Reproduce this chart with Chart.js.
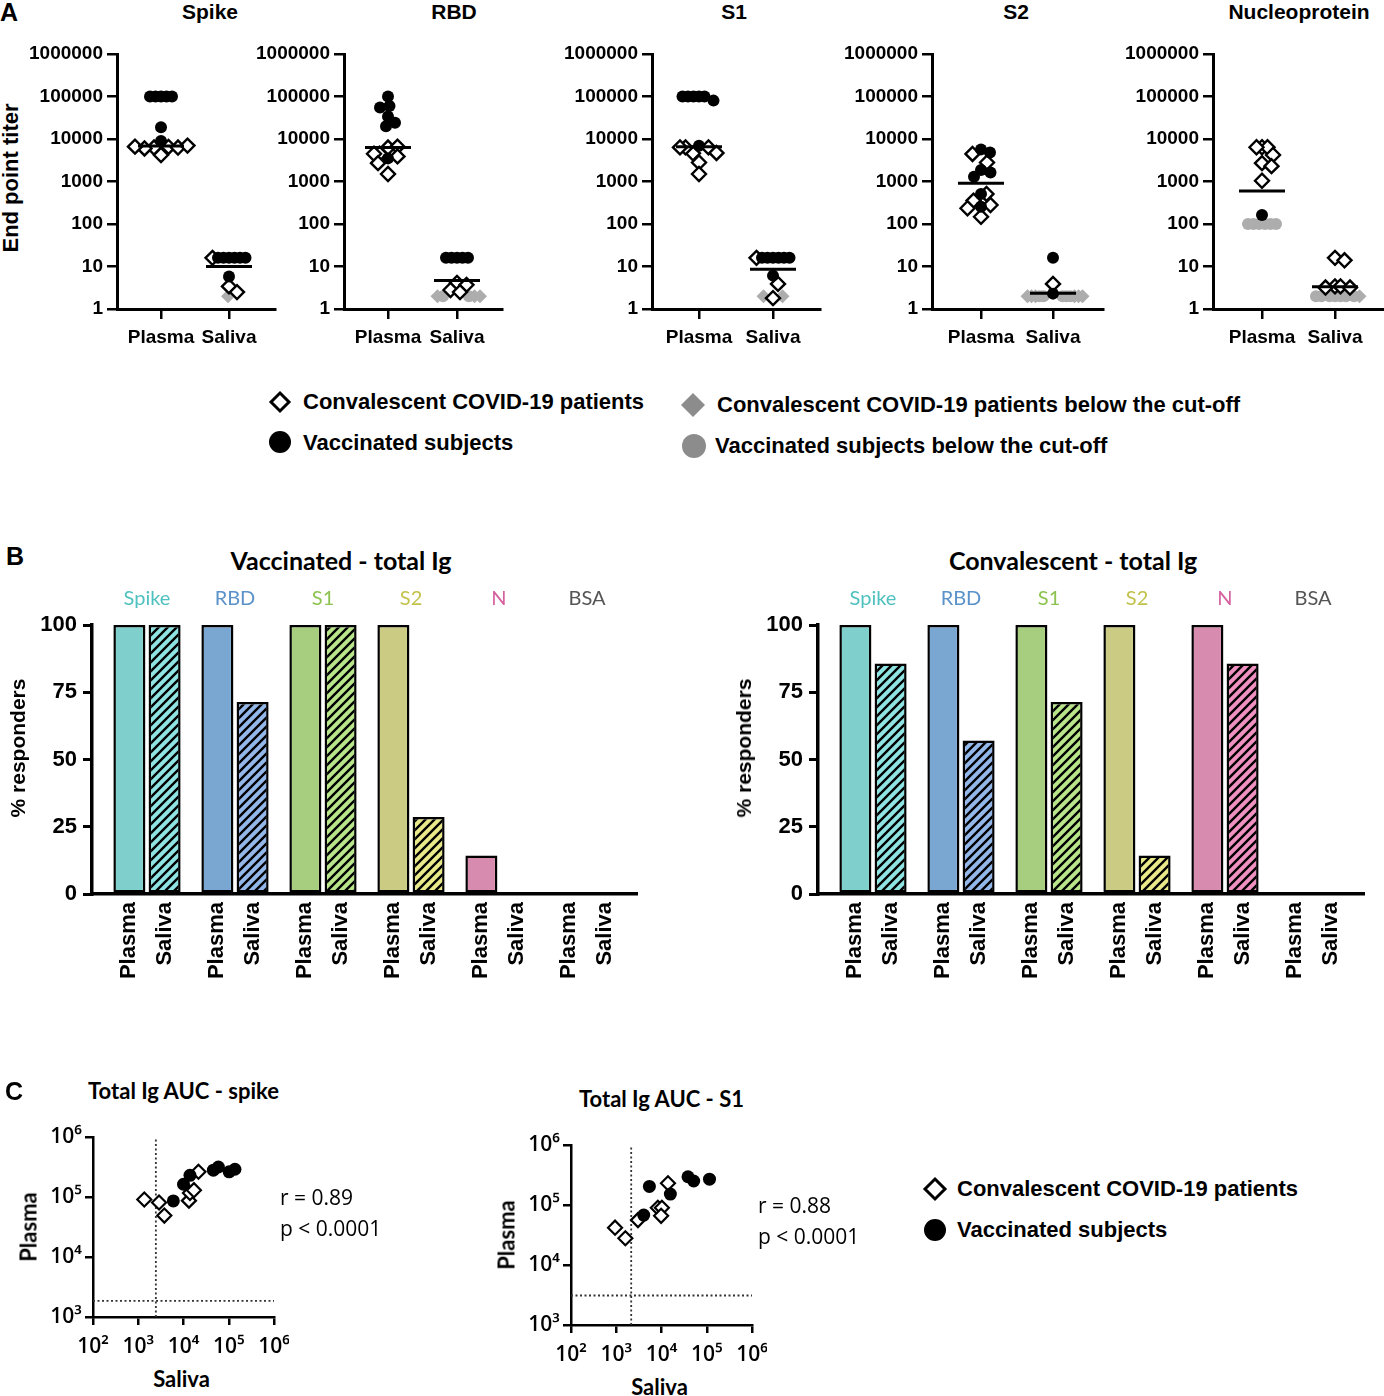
<!DOCTYPE html>
<html><head><meta charset="utf-8">
<script src="https://cdn.jsdelivr.net/npm/chart.js@4.4.1/dist/chart.umd.min.js"></script>
<style>
body{margin:0;background:#fff;}
#page{position:relative;width:1384px;height:1396px;overflow:hidden;background:#fff;color:#000;}
.t{position:absolute;white-space:nowrap;line-height:1;}
canvas{position:absolute;}
</style></head><body><div id="page"></div>
<script>
// ================= DATA =================
// ---- Panel A: end point titers, each array = [plasma values, saliva values]
const sampleLabels = ['Plasma', 'Saliva'];
const titerTicks = [1, 10, 100, 1000, 10000, 100000, 1000000];
const titerTickLabels = ['1', '10', '100', '1000', '10000', '100000', '1000000'];
const antigenTitles = ['Spike', 'RBD', 'S1', 'S2', 'Nucleoprotein'];

const spikeVac     = [[100000,100000,100000,100000,100000,19000,9000], [16,16,16,16,16,16,5.8]];
const spikeConv    = [[6500,6300,6000,6300,4200,6600,7000], [16,3.4,2.5]];
const spikeVacLow  = [[], []];
const spikeConvLow = [[], [2]];
const spikeLine    = [6800, 10];

const rbdVac     = [[100000,60000,55000,34000,24000,20000,3500], [16,16,16,16,16]];
const rbdConv    = [[6300,6600,4500,4500,3900,2700,1500], [4.1,3.7,2.8,2.5]];
const rbdVacLow  = [[], [2,2]];
const rbdConvLow = [[], [2,2,2]];
const rbdLine    = [6300, 4.7];

const s1Vac     = [[100000,100000,100000,80000,100000,100000,6900], [16,16,16,16,16,16,6.1]];
const s1Conv    = [[6350,4600,6350,4700,6350,2800,1500], [16,3.9,1.8]];
const s1VacLow  = [[], []];
const s1ConvLow = [[], [2,2]];
const s1Line    = [6600, 8.6];

const s2Vac     = [[5700,4800,1870,1620,1300,510,255], [16,2.3]];
const s2Conv    = [[4450,2800,510,355,280,235,148], [3.9]];
const s2VacLow  = [[], [2,2,2,2,2]];
const s2ConvLow = [[], [2,2,2,2,2,2]];
const s2Line    = [910, 2.34];

const nVac     = [[163], []];
const nConv    = [[6400,6400,6400,4200,2700,2300,1040], [16,14,3.4,3.4,3.2,3.2]];
const nVacLow  = [[100,100,100,100,100,100], [2,2,2,2,2,2,2]];
const nConvLow = [[], [2]];
const nLine    = [600, 3.35];

const legendA = ['Convalescent COVID-19 patients', 'Vaccinated subjects',
                 'Convalescent COVID-19 patients below the cut-off', 'Vaccinated subjects below the cut-off'];

// ---- Panel B: % responders
const bAntigens = ['Spike', 'RBD', 'S1', 'S2', 'N', 'BSA'];
const vacPlasmaPct  = [100, 100, 100, 100, 14.3, 0];
const vacSalivaPct  = [100, 71.4, 100, 28.6, 0, 0];
const convPlasmaPct = [100, 100, 100, 100, 100, 0];
const convSalivaPct = [85.7, 57.1, 71.4, 14.3, 85.7, 0];
const pctTicks = [0, 25, 50, 75, 100];
const bTitles = ['Vaccinated - total Ig', 'Convalescent - total Ig'];

// ---- Panel C: AUC correlations
const aucTicksX = [100, 1000, 10000, 100000, 1000000];
const aucTicksY = [1000, 10000, 100000, 1000000];
const aucTickLabelsX = ['10²', '10³', '10⁴', '10⁵', '10⁶'];
const aucTickLabelsY = ['10³', '10⁴', '10⁵', '10⁶'];

const spikeAucConvSaliva = [1360, 2880, 3770, 13200, 13900, 17000, 21400];
const spikeAucConvPlasma = [91000, 81000, 49000, 87000, 117000, 130000, 263000];
const spikeAucVacSaliva  = [5960, 10000, 13900, 45700, 59000, 102000, 137000];
const spikeAucVacPlasma  = [86000, 163000, 230000, 280000, 316000, 263000, 290000];
const spikeAucCutoff     = [2450, 1850];   // [saliva, plasma]
const spikeStats         = ['r = 0.89', 'p < 0.0001'];

const s1AucConvSaliva = [940, 1590, 3020, 8300, 10200, 9800, 13900];
const s1AucConvPlasma = [41900, 27900, 56000, 90000, 90000, 66000, 230000];
const s1AucVacSaliva  = [5400, 4040, 15700, 38500, 51400, 115000];
const s1AucVacPlasma  = [204000, 68000, 152000, 296000, 251000, 269000];
const s1AucCutoff     = [2140, 3100];
const s1Stats         = ['r = 0.88', 'p < 0.0001'];
const cTitles = ['Total Ig AUC - spike', 'Total Ig AUC - S1'];
const legendC = ['Convalescent COVID-19 patients', 'Vaccinated subjects'];

// ================= HELPERS =================
const page = document.getElementById('page');
const FA = '"Liberation Sans", Arial, Helvetica, sans-serif';
const FC = 'Lato, "Open Sans", sans-serif';
const FO = '"Open Sans", Lato, sans-serif';

function addText(str, x, y, o) {
  o = o || {};
  const d = document.createElement('div');
  d.className = 't'; d.textContent = str;
  d.style.font = (o.weight || 'normal') + ' ' + (o.size || 20) + 'px ' + (o.family || FA);
  d.style.left = x + 'px'; d.style.top = y + 'px';
  let tf = (o.anchor === 'left') ? 'translate(0,-50%)' : 'translate(-50%,-50%)';
  if (o.rotate) tf += ' rotate(-90deg)';
  d.style.transform = tf;
  if (o.color) d.style.color = o.color;
  page.appendChild(d);
}
function marker(shape, cx, cy, size, fill, stroke, sw) {
  const NS = 'http://www.w3.org/2000/svg';
  const s = document.createElementNS(NS, 'svg');
  const box = size * 2 + 8;
  s.setAttribute('width', box); s.setAttribute('height', box);
  s.style.cssText = 'position:absolute;left:' + (cx - box / 2) + 'px;top:' + (cy - box / 2) + 'px;overflow:visible';
  const c = box / 2;
  let el;
  if (shape === 'circle') {
    el = document.createElementNS(NS, 'circle');
    el.setAttribute('cx', c); el.setAttribute('cy', c); el.setAttribute('r', size);
  } else {
    el = document.createElementNS(NS, 'polygon');
    el.setAttribute('points', c + ',' + (c - size) + ' ' + (c + size) + ',' + c + ' ' + c + ',' + (c + size) + ' ' + (c - size) + ',' + c);
  }
  el.setAttribute('fill', fill);
  el.setAttribute('stroke', stroke || 'none');
  el.setAttribute('stroke-width', sw || 0);
  s.appendChild(el); page.appendChild(s);
}
function mkCanvas(L, T, R, B, pad) {
  const w = R - L + pad.l + pad.r, h = B - T + pad.t + pad.b;
  const c = document.createElement('canvas');
  c.width = w; c.height = h;
  c.style.left = (L - pad.l) + 'px'; c.style.top = (T - pad.t) + 'px';
  c.style.width = w + 'px'; c.style.height = h + 'px';
  page.appendChild(c);
  return c;
}
function fixW(w) { return s => { s.width = w; s.paddingTop = 0; s.paddingBottom = 0; s.paddingLeft = 0; s.paddingRight = 0; }; }
function fixH(h) { return s => { s.height = h; s.paddingTop = 0; s.paddingBottom = 0; s.paddingLeft = 0; s.paddingRight = 0; }; }
function setTicks(vals) { return s => { s.ticks = vals.map(v => ({ value: v })); }; }
const baseOpts = (padTop, padRight) => ({
  responsive: false, animation: false, events: [],
  layout: { autoPadding: false, padding: { top: padTop, right: padRight, left: 0, bottom: 0 } },
  plugins: { legend: { display: false }, tooltip: { enabled: false } }
});

// simple beeswarm in pixel space (horizontal jitter of the column scatter)
const DEC_PX = 42.5, ROW_D = 5.5, ROW_MAXW = 38, CLOUD_D = 9.5, STEP = 0.5;
function swarm(groupVals, unitPx) {
  const placed = [];
  const all = [].concat.apply([], groupVals);
  return groupVals.map(vals => vals.map(v => {
    const py = Math.log10(v) * DEC_PX;
    const same = all.filter(w => w === v).length;
    const rowD = same > 1 ? Math.min(ROW_D, ROW_MAXW / (same - 1)) : ROW_D;
    let off = 0;
    for (let k = 0; k < 800; k++) {
      const cand = (k % 2 ? 1 : -1) * Math.ceil(k / 2) * STEP;
      const ok = placed.every(p => {
        const dy = Math.abs(p.py - py);
        const need = dy < 0.5 ? rowD : CLOUD_D;
        return Math.hypot(p.px - cand, dy) >= need - 1e-6;
      });
      if (ok) { off = cand; break; }
    }
    placed.push({ px: off, py: py });
    return off / unitPx;
  }));
}

// ================= PANEL A =================
addText('A', 0, 12, { weight: 'bold', size: 25, anchor: 'left' });
addText('End point titer', 11, 178, { weight: 'bold', size: 22, rotate: true });
const aLayout = [
  { L: 117, R: 275, P: 161, S: 229, tx: 210 },
  { L: 344, R: 502, P: 388, S: 457, tx: 454 },
  { L: 652, R: 820, P: 699, S: 773, tx: 734 },
  { L: 932, R: 1103, P: 981, S: 1053, tx: 1016 },
  { L: 1213, R: 1383, P: 1262, S: 1335, tx: 1299 }];
const aData = [
  [spikeVac, spikeConv, spikeVacLow, spikeConvLow, spikeLine],
  [rbdVac, rbdConv, rbdVacLow, rbdConvLow, rbdLine],
  [s1Vac, s1Conv, s1VacLow, s1ConvLow, s1Line],
  [s2Vac, s2Conv, s2VacLow, s2ConvLow, s2Line],
  [nVac, nConv, nVacLow, nConvLow, nLine]];
const GREY = '#adadad';
const aStyles = [
  { pointStyle: 'circle', pointRadius: 6, pointBackgroundColor: '#000', pointBorderColor: '#000', pointBorderWidth: 0 },
  { pointStyle: 'rectRot', pointRadius: 7, pointBackgroundColor: '#fff', pointBorderColor: '#000', pointBorderWidth: 2.4 },
  { pointStyle: 'circle', pointRadius: 6, pointBackgroundColor: GREY, pointBorderColor: GREY, pointBorderWidth: 0 },
  { pointStyle: 'rectRot', pointRadius: 7, pointBackgroundColor: GREY, pointBorderColor: GREY, pointBorderWidth: 0 }];
const A_T = 54, A_B = 309;
const axisGridA = { drawOnChartArea: false, drawTicks: true, tickLength: 10, color: '#000', lineWidth: 2.5 };
const axisBorderA = { display: true, color: '#000', width: 3 };

aData.forEach((groups, i) => {
  const lay = aLayout[i];
  addText(antigenTitles[i], lay.tx, 12, { weight: 'bold', size: 21 });
  const U = lay.S - lay.P;
  const xmin = 1 - (lay.P - lay.L) / U, xmax = 2 + (lay.R - lay.S) / U;
  const sets = groups.slice(0, 4), line = groups[4];
  const offs = [0, 1].map(c => swarm(sets.map(g => g[c]), U));
  const datasets = [{
    data: [0, 1].map(c => ({ x: c + 1, y: line[c] })),
    pointStyle: 'line', pointRadius: 23, pointBorderWidth: 3, pointBorderColor: '#000', clip: false
  }];
  sets.forEach((g, gi) => {
    const pts = [];
    [0, 1].forEach(c => g[c].forEach((v, j) => pts.push({ x: c + 1 + offs[c][gi][j], y: v })));
    datasets.push(Object.assign({ data: pts, clip: false }, aStyles[gi]));
  });
  const pad = { l: 110, r: 8, t: 14, b: 50 };
  const cv = mkCanvas(lay.L, A_T, lay.R, A_B, pad);
  const opts = baseOpts(pad.t, pad.r);
  opts.scales = {
    x: { type: 'linear', min: xmin, max: xmax, afterBuildTicks: setTicks([1, 2]), afterFit: fixH(pad.b),
      ticks: { callback: v => sampleLabels[Math.round(v) - 1], font: { family: FA, size: 19, weight: 'bold' }, color: '#000', padding: 7, autoSkip: false, maxRotation: 0, minRotation: 0 },
      grid: axisGridA, border: axisBorderA },
    y: { type: 'logarithmic', min: 1, max: 1000000, afterBuildTicks: setTicks(titerTicks), afterFit: fixW(pad.l),
      ticks: { callback: v => titerTickLabels[titerTicks.indexOf(v)], font: { family: FA, size: 19, weight: 'bold' }, color: '#000', padding: 4, autoSkip: false },
      grid: axisGridA, border: axisBorderA }
  };
  new Chart(cv, { type: 'scatter', data: { datasets: datasets }, options: opts });
});

// legend A
marker('diamond', 280, 402, 9, '#fff', '#000', 3);
addText(legendA[0], 303, 402, { weight: 'bold', size: 22, anchor: 'left' });
marker('circle', 280, 442, 11, '#000');
addText(legendA[1], 303, 443, { weight: 'bold', size: 22, anchor: 'left' });
marker('diamond', 693, 405, 12, '#8c8c8c');
addText(legendA[2], 717, 405, { weight: 'bold', size: 22, anchor: 'left' });
marker('circle', 694, 446, 12, '#8c8c8c');
addText(legendA[3], 715, 446, { weight: 'bold', size: 22, anchor: 'left' });

// ================= PANEL B =================
addText('B', 6, 556, { weight: 'bold', size: 25, anchor: 'left' });
const antigenColors = ['#4fc1bf', '#5a92c9', '#8cc350', '#c2c24b', '#d6619f', '#555555'];
const plasmaFill = ['#7fcfcc', '#7aa6d2', '#a7cd7e', '#cbcb84', '#d78bae', '#bbbbbb'];
const salivaBase = ['#8fe3e3', '#94b7ea', '#b8e48a', '#e9e98a', '#ee90c0', '#bbbbbb'];
function hatch(color) {
  const t = document.createElement('canvas'); const n = 9;
  t.width = n; t.height = n;
  const g = t.getContext('2d');
  g.fillStyle = color; g.fillRect(0, 0, n, n);
  g.strokeStyle = '#000'; g.lineWidth = 2.4;
  g.beginPath();
  g.moveTo(-1, n + 1); g.lineTo(n + 1, -1);
  g.moveTo(-1, 1); g.lineTo(1, -1);
  g.moveTo(n - 1, n + 1); g.lineTo(n + 1, n - 1);
  g.stroke();
  return g.createPattern(t, 'repeat');
}
const salivaFill = salivaBase.map(hatch);

function barChart(L, R, titleX, plasmaVals, salivaVals, title) {
  const T = 625, B = 894, pitch = 88, first = 55;
  const xmin = -first / pitch, xmax = (R - L - first) / pitch;
  const pad = { l: 75, r: 8, t: 45, b: 100 };
  const cv = mkCanvas(L, T, R, B, pad);
  addText(title, titleX, 560, { weight: 'bold', size: 25, family: FC });
  addText('% responders', L - 74, 748, { weight: 'bold', size: 21, rotate: true });
  const idx = bAntigens.map((a, i) => i);
  const opts = baseOpts(5, pad.r);
  opts.scales = {
    x: { type: 'linear', offset: false, min: xmin, max: xmax, afterBuildTicks: setTicks(idx), afterFit: fixH(pad.b),
      ticks: { callback: () => sampleLabels, font: { family: FA, size: 22, weight: 'bold', lineHeight: 1.6 }, color: '#000', padding: 8,
        autoSkip: false, minRotation: 90, maxRotation: 90, labelOffset: -17.6 },
      grid: { display: false, drawTicks: false, offset: false }, border: { display: true, color: '#000', width: 3.5 } },
    x2: { type: 'linear', position: 'top', offset: false, min: xmin, max: xmax, afterBuildTicks: setTicks(idx), afterFit: fixH(40),
      ticks: { callback: v => bAntigens[v], font: { family: FC, size: 20 }, color: c => antigenColors[c.index], padding: 14,
        autoSkip: false, minRotation: 0, maxRotation: 0 },
      grid: { display: false, drawTicks: false }, border: { display: false } },
    y: { type: 'linear', min: 0, max: 100, afterBuildTicks: setTicks(pctTicks), afterFit: fixW(pad.l),
      ticks: { font: { family: FA, size: 22, weight: 'bold' }, color: '#000', padding: 6, autoSkip: false },
      grid: { drawOnChartArea: false, drawTicks: true, tickLength: 9, color: '#000', lineWidth: 3 },
      border: { display: true, color: '#000', width: 3.5 } }
  };
  new Chart(cv, {
    type: 'bar',
    data: { datasets: [
      { label: sampleLabels[0], data: plasmaVals.map((v, i) => ({ x: i, y: v })), backgroundColor: plasmaFill,
        borderColor: '#000', borderWidth: 2.5, borderSkipped: false, categoryPercentage: 0.8, barPercentage: 0.91 },
      { label: sampleLabels[1], data: salivaVals.map((v, i) => ({ x: i, y: v })), backgroundColor: salivaFill,
        borderColor: '#000', borderWidth: 2.5, borderSkipped: false, categoryPercentage: 0.8, barPercentage: 0.91 }
    ] },
    options: opts
  });
}
barChart(92, 637, 341, vacPlasmaPct, vacSalivaPct, bTitles[0]);
barChart(818, 1364, 1073, convPlasmaPct, convSalivaPct, bTitles[1]);

// ================= PANEL C =================
addText('C', 5, 1091, { weight: 'bold', size: 25, anchor: 'left' });
function aucChart(L, T, convS, convP, vacS, vacP, cut, stats, title, statX) {
  const R = L + 181, B = T + 180;
  const pad = { l: 60, r: 15, t: 15, b: 45 };
  const cv = mkCanvas(L, T, R, B, pad);
  const cx = (L + R) / 2;
  addText(title, cx, T - 47, { weight: 'bold', size: 22, family: FC });
  addText('Saliva', cx - 2, B + 61, { weight: 'bold', size: 22, family: FC });
  addText('Plasma', L - 65, (T + B) / 2, { weight: 'bold', size: 22, family: FC, rotate: true });
  addText(stats[0], statX, T + 60, { size: 21, family: FO, anchor: 'left' });
  addText(stats[1], statX, T + 91, { size: 21, family: FO, anchor: 'left' });
  const grid = { drawOnChartArea: false, drawTicks: true, tickLength: 8, color: '#000', lineWidth: 2.5 };
  const border = { display: true, color: '#000', width: 2.5 };
  const opts = baseOpts(pad.t, pad.r);
  opts.scales = {
    x: { type: 'logarithmic', min: aucTicksX[0], max: aucTicksX[aucTicksX.length - 1], afterBuildTicks: setTicks(aucTicksX), afterFit: fixH(pad.b),
      ticks: { callback: v => aucTickLabelsX[aucTicksX.indexOf(v)], font: { family: FO, size: 21, weight: '600' }, color: '#000', padding: 9, autoSkip: false, maxRotation: 0, minRotation: 0 },
      grid: grid, border: border },
    y: { type: 'logarithmic', min: aucTicksY[0], max: aucTicksY[aucTicksY.length - 1], afterBuildTicks: setTicks(aucTicksY), afterFit: fixW(pad.l),
      ticks: { callback: v => aucTickLabelsY[aucTicksY.indexOf(v)], font: { family: FO, size: 21, weight: '600' }, color: '#000', padding: 3, autoSkip: false },
      grid: grid, border: border }
  };
  const dotted = { showLine: true, borderColor: '#333', borderWidth: 1.8, borderDash: [2, 2.5], pointRadius: 0, fill: false };
  new Chart(cv, {
    type: 'scatter',
    data: { datasets: [
      { data: vacS.map((v, i) => ({ x: v, y: vacP[i] })), pointStyle: 'circle', pointRadius: 6.5, pointBackgroundColor: '#000', pointBorderWidth: 0, clip: false },
      { data: convS.map((v, i) => ({ x: v, y: convP[i] })), pointStyle: 'rectRot', pointRadius: 7, pointBackgroundColor: '#fff', pointBorderColor: '#000', pointBorderWidth: 2.2, clip: false },
      Object.assign({ data: [{ x: cut[0], y: aucTicksY[0] }, { x: cut[0], y: aucTicksY[aucTicksY.length - 1] }] }, dotted),
      Object.assign({ data: [{ x: aucTicksX[0], y: cut[1] }, { x: aucTicksX[aucTicksX.length - 1], y: cut[1] }] }, dotted)
    ] },
    options: opts
  });
}
aucChart(93, 1137, spikeAucConvSaliva, spikeAucConvPlasma, spikeAucVacSaliva, spikeAucVacPlasma, spikeAucCutoff, spikeStats, cTitles[0], 280);
aucChart(571, 1145, s1AucConvSaliva, s1AucConvPlasma, s1AucVacSaliva, s1AucVacPlasma, s1AucCutoff, s1Stats, cTitles[1], 758);

// legend C
marker('diamond', 935, 1189, 10, '#fff', '#000', 3);
addText(legendC[0], 957, 1189, { weight: 'bold', size: 22, anchor: 'left' });
marker('circle', 935, 1230, 11, '#000');
addText(legendC[1], 957, 1230, { weight: 'bold', size: 22, anchor: 'left' });
</script></body></html>
